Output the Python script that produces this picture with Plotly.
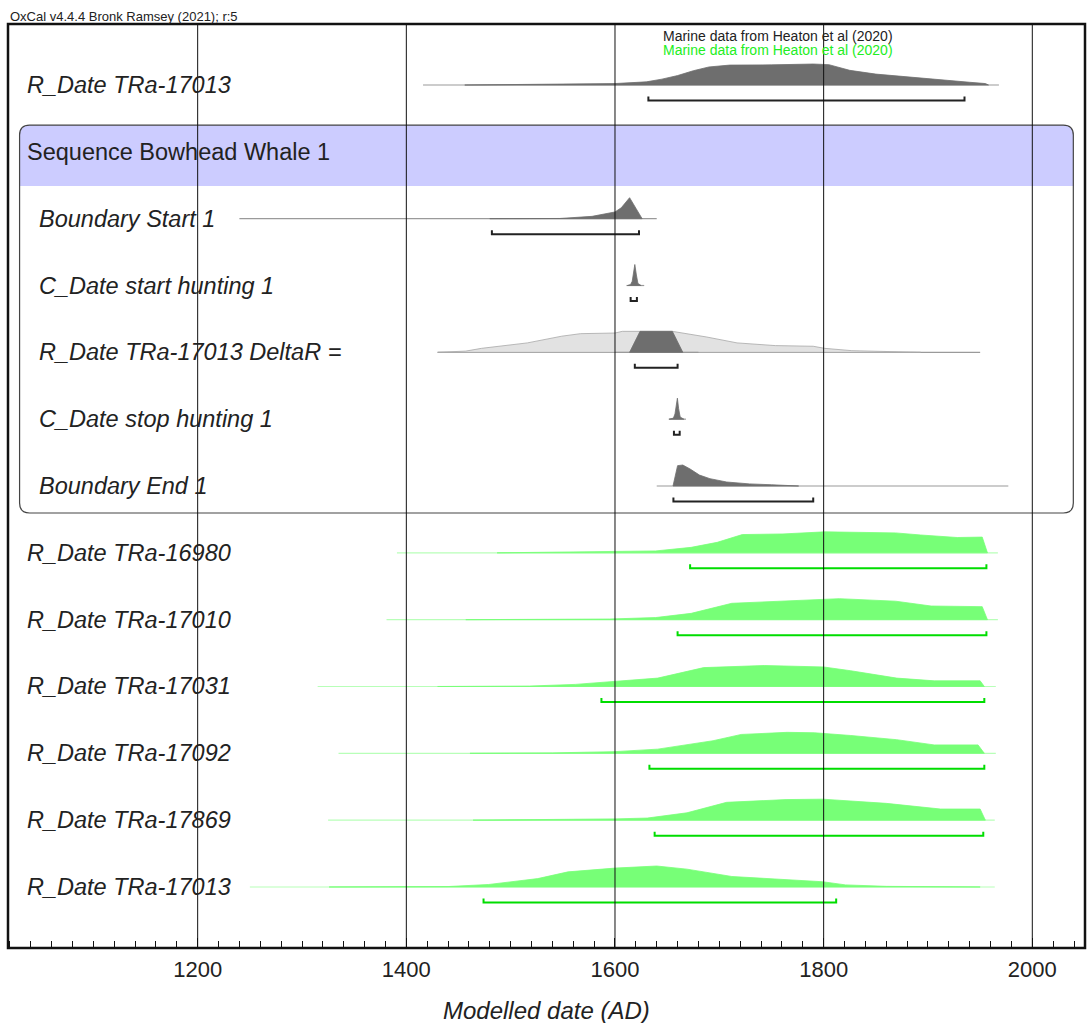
import plotly.graph_objects as go

# ---------------- data ----------------
row_labels = ["R_Date TRa-17013", "Sequence Bowhead Whale 1", "Boundary Start 1",
              "C_Date start hunting 1", "R_Date TRa-17013 DeltaR =", "C_Date stop hunting 1",
              "Boundary End 1", "R_Date TRa-16980", "R_Date TRa-17010", "R_Date TRa-17031",
              "R_Date TRa-17092", "R_Date TRa-17869", "R_Date TRa-17013"]
inner_rows = [2, 3, 4, 5, 6]          # rows inside the Sequence box
header_row = 1

grid_years = [1200, 1400, 1600, 1800, 2000]
tick_text = ["1200", "1400", "1600", "1800", "2000"]

# row 0 : R_Date TRa-17013 (unmodelled, grey)
r0_years = [1456, 1520, 1560, 1600, 1630, 1645, 1660, 1675, 1690, 1710, 1750, 1790, 1805, 1815, 1825, 1850, 1880, 1910, 1940, 1955, 1958]
r0_prob = [0, 0.02, 0.04, 0.07, 0.15, 0.28, 0.45, 0.68, 0.86, 0.95, 0.96, 1.0, 0.97, 0.85, 0.7, 0.52, 0.38, 0.25, 0.13, 0.07, 0]
r0_span = [1416, 1968]
r0_hpd = [1632, 1935]

# row 2 : Boundary Start 1
r2_years = [1480, 1547, 1578, 1592, 1600, 1606, 1614, 1620, 1626]
r2_prob = [0, 0.01, 0.11, 0.23, 0.32, 0.52, 1.0, 0.5, 0]
r2_span = [1240, 1640]
r2_hpd = [1482, 1623]

# row 3 : C_Date start hunting 1
r3_years = [1612, 1615, 1616.5, 1618, 1619, 1620.5, 1622, 1625]
r3_prob = [0, 0.05, 0.2, 0.7, 1.0, 0.5, 0.1, 0]
r3_span = [1611, 1628]
r3_hpd = [1615, 1621]

# row 4 : R_Date TRa-17013 DeltaR = (prior light grey, posterior dark)
r4_prior_years = [1430, 1457, 1472, 1494, 1516, 1549, 1567, 1600, 1607, 1655, 1669, 1688, 1717, 1754, 1790, 1801, 1827, 1893]
r4_prior_prob = [0, 0.06, 0.19, 0.32, 0.45, 0.77, 0.89, 0.92, 1.0, 1.0, 0.89, 0.73, 0.45, 0.32, 0.29, 0.19, 0.08, 0]
r4_prior_span = [1430, 1950]
r4_years = [1614, 1624, 1655, 1665]
r4_prob = [0, 1.0, 1.0, 0]
r4_span = [1600, 1680]
r4_hpd = [1619, 1660]

# row 5 : C_Date stop hunting 1
r5_years = [1652, 1656, 1657.5, 1659, 1659.8, 1661, 1662.5, 1666]
r5_prob = [0, 0.05, 0.25, 0.8, 1.0, 0.5, 0.1, 0]
r5_span = [1651.5, 1668]
r5_hpd = [1656.5, 1662]

# row 6 : Boundary End 1
r6_years = [1655.6, 1660, 1665, 1672, 1681, 1691, 1707, 1729, 1750, 1774, 1776]
r6_prob = [0, 0.97, 1.0, 0.81, 0.52, 0.35, 0.19, 0.10, 0.06, 0.03, 0]
r6_span = [1640, 1977]
r6_hpd = [1656, 1790]

# row 7 : R_Date TRa-16980 (green)
r7_years = [1487, 1526, 1602, 1639, 1673, 1698, 1722, 1761, 1801, 1820, 1869, 1893, 1928, 1952, 1957]
r7_prob = [0, 0.02, 0.05, 0.09, 0.26, 0.5, 0.87, 0.9, 1.0, 0.98, 0.95, 0.85, 0.73, 0.75, 0]
r7_span = [1391, 1967]
r7_hpd = [1672, 1956]

# row 8 : R_Date TRa-17010
r8_years = [1457, 1540, 1595, 1639, 1673, 1712, 1761, 1801, 1815, 1869, 1903, 1952, 1957]
r8_prob = [0, 0.02, 0.03, 0.1, 0.3, 0.78, 0.9, 0.97, 1.0, 0.88, 0.65, 0.62, 0]
r8_span = [1381, 1967]
r8_hpd = [1660, 1956]

# row 9 : R_Date TRa-17031
r9_years = [1430, 1518, 1562, 1600, 1641, 1685, 1716, 1743, 1800, 1826, 1870, 1906, 1950, 1954]
r9_prob = [0, 0.02, 0.1, 0.25, 0.4, 0.9, 0.97, 1.0, 0.93, 0.75, 0.4, 0.27, 0.27, 0]
r9_span = [1315, 1965]
r9_hpd = [1587, 1954]

# row 10 : R_Date TRa-17092
r10_years = [1461, 1540, 1600, 1641, 1694, 1721, 1765, 1791, 1826, 1870, 1906, 1948, 1954]
r10_prob = [0, 0.02, 0.08, 0.2, 0.6, 0.9, 1.0, 0.98, 0.85, 0.65, 0.4, 0.4, 0]
r10_span = [1335, 1965]
r10_hpd = [1633, 1954]

# row 11 : R_Date TRa-17869
r11_years = [1464, 1536, 1600, 1631, 1669, 1707, 1764, 1799, 1860, 1912, 1950, 1955]
r11_prob = [0, 0.02, 0.06, 0.1, 0.35, 0.85, 0.98, 1.0, 0.8, 0.53, 0.53, 0]
r11_span = [1325, 1964]
r11_hpd = [1638, 1953]

# row 12 : R_Date TRa-17013 (green)
r12_years = [1326, 1440, 1479, 1526, 1555, 1600, 1640, 1669, 1712, 1764, 1799, 1821, 1860, 1950]
r12_prob = [0, 0.02, 0.12, 0.4, 0.72, 0.9, 1.0, 0.85, 0.5, 0.35, 0.25, 0.1, 0.03, 0]
r12_span = [1250, 1964]
r12_hpd = [1474, 1812]

# ---------------- styles / layout constants ----------------
GREY_FILL = "#6e6e6e"
GREY_LINE = "#9a9a9a"
PRIOR_FILL = "#e2e2e2"
PRIOR_LINE = "#a8a8a8"
GREEN_FILL = "#77ff77"
GREEN_LINE = "#b8ffb8"
GREEN_BAR = "#00dd00"
BAR_BLACK = "#222222"
TEXT = "#222222"
FONT = "Liberation Sans"
LABEL_SIZE = 23.5

H = 0.314        # height of a distribution (in row units)
BAR_OFF = 0.232  # offset of range bar below baseline
TICK = 0.06      # bracket end length

rows = [
    (0, r0_years, r0_prob, r0_span, r0_hpd, "grey"),
    (2, r2_years, r2_prob, r2_span, r2_hpd, "grey"),
    (3, r3_years, r3_prob, r3_span, r3_hpd, "grey"),
    (4, r4_years, r4_prob, r4_span, r4_hpd, "grey"),
    (5, r5_years, r5_prob, r5_span, r5_hpd, "grey"),
    (6, r6_years, r6_prob, r6_span, r6_hpd, "grey"),
    (7, r7_years, r7_prob, r7_span, r7_hpd, "green"),
    (8, r8_years, r8_prob, r8_span, r8_hpd, "green"),
    (9, r9_years, r9_prob, r9_span, r9_hpd, "green"),
    (10, r10_years, r10_prob, r10_span, r10_hpd, "green"),
    (11, r11_years, r11_prob, r11_span, r11_hpd, "green"),
    (12, r12_years, r12_prob, r12_span, r12_hpd, "green"),
]

fig = go.Figure()


def add_dist(slot, years, prob, span, fill, edge, linecol):
    fig.add_trace(go.Scatter(x=span, y=[slot, slot], mode="lines",
                             line=dict(color=linecol, width=1.2), hoverinfo="skip"))
    xs = list(years) + [years[-1], years[0]]
    ys = [slot - p * H for p in prob] + [slot, slot]
    fig.add_trace(go.Scatter(x=xs, y=ys, mode="lines", fill="toself", fillcolor=fill,
                             line=dict(color=edge, width=0.8), hoverinfo="skip"))


def add_bar(slot, hpd, color):
    yb = slot + BAR_OFF
    fig.add_trace(go.Scatter(x=[hpd[0], hpd[0], hpd[1], hpd[1]],
                             y=[yb - TICK, yb, yb, yb - TICK], mode="lines",
                             line=dict(color=color, width=2), hoverinfo="skip"))


# prior of the DeltaR row first (behind posterior)
add_dist(4, r4_prior_years, r4_prior_prob, r4_prior_span, PRIOR_FILL, PRIOR_LINE, GREY_LINE)

for slot, yrs, pr, span, hpd, style in rows:
    if style == "grey":
        add_dist(slot, yrs, pr, span, GREY_FILL, GREY_FILL, GREY_LINE)
        add_bar(slot, hpd, BAR_BLACK)
    else:
        add_dist(slot, yrs, pr, span, GREEN_FILL, GREEN_FILL, GREEN_LINE)
        add_bar(slot, hpd, GREEN_BAR)

# ---------------- shapes ----------------
X0, X1 = 1029.3, 2039.3      # sequence box (years)
Y0, YB, Y1 = 0.599, 1.511, 6.404
RX, RY = 9.6, 0.15
band_path = (f"M {X0},{YB} L {X0},{Y0+RY} Q {X0},{Y0} {X0+RX},{Y0} L {X1-RX},{Y0} "
             f"Q {X1},{Y0} {X1},{Y0+RY} L {X1},{YB} Z")
box_path = (f"M {X0+RX},{Y0} L {X1-RX},{Y0} Q {X1},{Y0} {X1},{Y0+RY} L {X1},{Y1-RY} "
            f"Q {X1},{Y1} {X1-RX},{Y1} L {X0+RX},{Y1} Q {X0},{Y1} {X0},{Y1-RY} "
            f"L {X0},{Y0+RY} Q {X0},{Y0} {X0+RX},{Y0} Z")
shapes = [
    dict(type="path", path=band_path, xref="x", yref="y", fillcolor="#ccccff",
         line=dict(width=0), layer="below"),
    dict(type="path", path=box_path, xref="x", yref="y", line=dict(color="#444444", width=1.2),
         layer="below"),
]
for g in grid_years:
    shapes.append(dict(type="line", xref="x", yref="paper", x0=g, x1=g, y0=0, y1=1,
                       line=dict(color="#111111", width=1), layer="above"))
shapes.append(dict(type="rect", xref="paper", yref="paper", x0=0, x1=1, y0=0, y1=1,
                   line=dict(color="#111111", width=2.5), layer="above"))

# ---------------- annotations ----------------
ann = []
for i, lab in enumerate(row_labels):
    if i == header_row:
        ann.append(dict(text=lab, xref="paper", yref="y", x=0.0158, y=i, xanchor="left",
                        yanchor="middle", showarrow=False,
                        font=dict(family=FONT, size=LABEL_SIZE, color=TEXT)))
    else:
        xx = 0.0269 if i in inner_rows else 0.0158
        ann.append(dict(text=f"<i>{lab}</i>", xref="paper", yref="y", x=xx, y=i, xanchor="left",
                        yanchor="middle", showarrow=False,
                        font=dict(family=FONT, size=LABEL_SIZE, color=TEXT)))
ann.append(dict(text="OxCal v4.4.4 Bronk Ramsey (2021); r:5", xref="paper", yref="paper",
                x=0, y=1.0076, xanchor="left", yanchor="middle", showarrow=False,
                font=dict(family=FONT, size=13, color=TEXT)))
ann.append(dict(text="Marine data from Heaton et al (2020)", xref="paper", yref="paper",
                x=0.6063, y=0.9865, xanchor="left", yanchor="middle", showarrow=False,
                font=dict(family=FONT, size=14, color=TEXT)))
ann.append(dict(text="Marine data from Heaton et al (2020)", xref="paper", yref="paper",
                x=0.6063, y=0.9722, xanchor="left", yanchor="middle", showarrow=False,
                font=dict(family=FONT, size=14, color="#22ee22")))
ann.append(dict(text="<i>Modelled date (AD)</i>", xref="paper", yref="paper",
                x=0.4998, y=-0.0671, xanchor="center", yanchor="middle", showarrow=False,
                font=dict(family=FONT, size=24, color=TEXT)))

fig.update_layout(
    width=1092, height=1023,
    margin=dict(l=8, r=7, t=24, b=75),
    paper_bgcolor="white", plot_bgcolor="white",
    showlegend=False,
    shapes=shapes, annotations=ann,
    xaxis=dict(range=[1018.2, 2050.5], tickvals=grid_years, ticktext=tick_text,
               showgrid=False, zeroline=False, ticks="inside", ticklen=10, tickcolor="#111",
               tickfont=dict(family=FONT, size=22, color=TEXT), ticklabelstandoff=6,
               minor=dict(dtick=20, tick0=1000, ticks="inside", ticklen=7, tickcolor="#111",
                          tickwidth=1, showgrid=False),
               showline=False, fixedrange=True),
    yaxis=dict(range=[12.913, -0.913], showgrid=False, zeroline=False, showticklabels=False,
               ticks="", showline=False, fixedrange=True),
)

fig.write_html("out.html")
